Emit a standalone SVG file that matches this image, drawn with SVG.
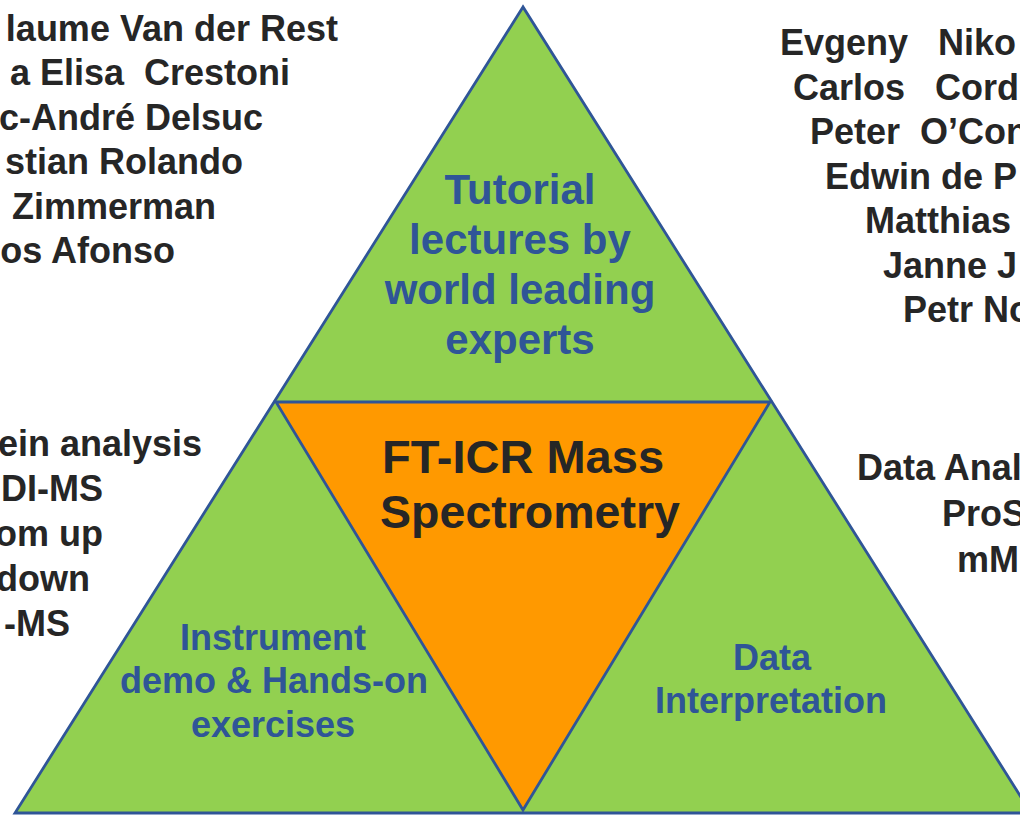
<svg xmlns="http://www.w3.org/2000/svg" width="1020" height="815" viewBox="0 0 1020 815">
<style>
.tri{stroke:#2F5597;stroke-width:2.8;stroke-linejoin:miter}
.green{fill:#92D050}
.orange{fill:#FF9900}
.t{font-family:"Liberation Sans",Arial,sans-serif;font-weight:bold;white-space:pre}
.dark{fill:#262626;font-size:36px}
.blue{fill:#2F5597}
.mid{text-anchor:middle}
.end{text-anchor:end}
</style>
<rect width="1020" height="815" fill="#FFFFFF"/>
<g id="pyramid">
<polygon class="tri green" points="523,7 15,813 1031,813"/>
</g>
<g id="connectors"></g>
<g id="center">
<polygon class="tri orange" points="276,402 770,402 523,810"/>
<text class="t mid" x="523" y="473" fill="#262626" font-size="47">FT-ICR Mass</text>
<text class="t mid" x="530" y="528" fill="#262626" font-size="46.5">Spectrometry</text>
</g>
<g id="top">
<text class="t blue mid" font-size="42" x="520" y="204">Tutorial</text>
<text class="t blue mid" font-size="42" x="520" y="254">lectures by</text>
<text class="t blue mid" font-size="42" x="520" y="304">world leading</text>
<text class="t blue mid" font-size="42" x="520" y="354">experts</text>
</g>
<g id="left">
<text class="t blue mid" font-size="36" x="273" y="650">Instrument</text>
<text class="t blue mid" font-size="36" x="274" y="693">demo &amp; Hands-on</text>
<text class="t blue mid" font-size="36" x="273" y="737">exercises</text>
</g>
<g id="right">
<text class="t blue mid" font-size="36" x="772" y="670">Data</text>
<text class="t blue mid" font-size="36" x="771" y="713">Interpretation</text>
</g>
<g id="names-left">
<text class="t dark end" x="338" y="41">laume Van der Rest</text>
<text class="t dark end" x="290" y="85">a Elisa  Crestoni</text>
<text class="t dark end" x="263" y="130">c-André Delsuc</text>
<text class="t dark end" x="243" y="174">stian Rolando</text>
<text class="t dark end" x="216" y="219">Zimmerman</text>
<text class="t dark end" x="175" y="263">os Afonso</text>
</g>
<g id="names-right">
<text class="t dark" x="780" y="55">Evgeny   Niko</text>
<text class="t dark" x="793" y="100">Carlos   Cord</text>
<text class="t dark" x="810" y="144">Peter  O’Con</text>
<text class="t dark" x="825" y="189">Edwin de P</text>
<text class="t dark" x="865" y="233">Matthias</text>
<text class="t dark" x="883" y="278">Janne J</text>
<text class="t dark" x="903" y="322">Petr No</text>
</g>
<g id="topics-left">
<text class="t dark end" x="202" y="456">ein analysis</text>
<text class="t dark end" x="103" y="501">DI-MS</text>
<text class="t dark end" x="103" y="546">om up</text>
<text class="t dark end" x="90" y="591">down</text>
<text class="t dark end" x="70" y="636">-MS</text>
</g>
<g id="topics-right">
<text class="t dark" x="857" y="480">Data Anal</text>
<text class="t dark" x="942" y="526">ProS</text>
<text class="t dark" x="957" y="572">mM</text>
</g>
</svg>
